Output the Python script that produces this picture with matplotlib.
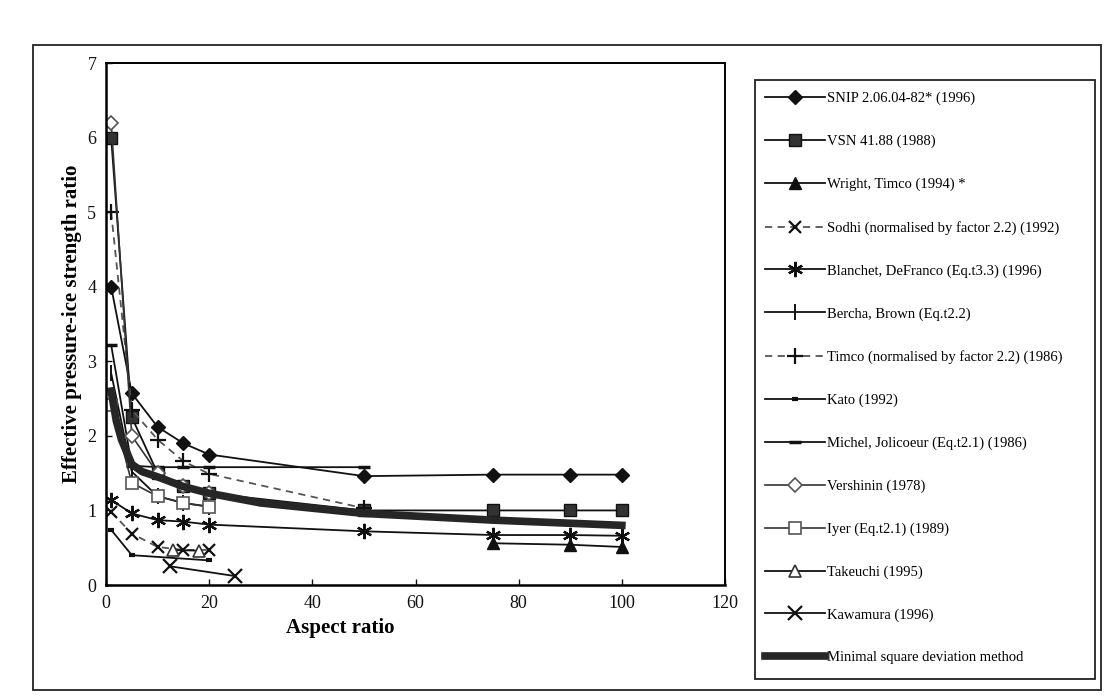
import matplotlib
matplotlib.use("Agg")
import matplotlib.pyplot as plt
from matplotlib.patches import Rectangle

plt.rcParams['font.family'] = ['Liberation Serif', 'DejaVu Serif']

# ---------------- data ----------------
snip_x = [1, 5, 10, 15, 20, 50, 75, 90, 100]
snip_y = [4.0, 2.57, 2.12, 1.9, 1.75, 1.46, 1.48, 1.48, 1.48]

vsn_x = [1, 5, 10, 15, 20, 50, 75, 90, 100]
vsn_y = [6.0, 2.25, 1.5, 1.33, 1.23, 1.0, 1.0, 1.0, 1.0]

wright_x = [75, 90, 100]
wright_y = [0.56, 0.54, 0.51]

sodhi_x = [1, 5, 10, 15, 20]
sodhi_y = [0.98, 0.69, 0.51, 0.47, 0.47]

blanchet_x = [1, 5, 10, 15, 20, 50, 75, 90, 100]
blanchet_y = [1.14, 0.96, 0.87, 0.85, 0.81, 0.72, 0.67, 0.67, 0.66]

bercha_x = [1, 5, 10, 15, 20]
bercha_y = [2.84, 1.52, 1.19, 1.10, 1.05]

timco_x = [1, 5, 10, 15, 20, 50]
timco_y = [5.0, 2.35, 1.95, 1.66, 1.49, 1.03]

kato_x = [1, 5, 20]
kato_y = [0.74, 0.40, 0.33]

michel_x = [1, 5, 10, 15, 20, 50]
michel_y = [3.22, 1.60, 1.58, 1.58, 1.58, 1.58]

vershinin_x = [1, 5, 10, 15, 20]
vershinin_y = [6.2, 2.0, 1.5, 1.33, 1.23]

iyer_x = [1, 5, 10, 15, 20]
iyer_y = [2.42, 1.37, 1.19, 1.10, 1.05]

takeuchi_x = [13, 18]
takeuchi_y = [0.47, 0.46]

kawamura_x = [12.5, 25]
kawamura_y = [0.25, 0.12]

msd_x = [1, 2, 3, 5, 7, 10, 15, 20, 30, 50, 75, 100]
msd_y = [2.6, 2.2, 1.95, 1.62, 1.52, 1.45, 1.32, 1.23, 1.1, 0.96, 0.87, 0.80]

labels = [
    "SNIP 2.06.04-82* (1996)",
    "VSN 41.88 (1988)",
    "Wright, Timco (1994) *",
    "Sodhi (normalised by factor 2.2) (1992)",
    "Blanchet, DeFranco (Eq.t3.3) (1996)",
    "Bercha, Brown (Eq.t2.2)",
    "Timco (normalised by factor 2.2) (1986)",
    "Kato (1992)",
    "Michel, Jolicoeur (Eq.t2.1) (1986)",
    "Vershinin (1978)",
    "Iyer (Eq.t2.1) (1989)",
    "Takeuchi (1995)",
    "Kawamura (1996)",
    "Minimal square deviation method",
]
x_ticks = [0, 20, 40, 60, 80, 100, 120]
y_ticks = [0, 1, 2, 3, 4, 5, 6, 7]

# ---------------- figure ----------------
W, H = 1107, 697
fig = plt.figure(figsize=(W / 100, H / 100), dpi=100)
fig.patch.set_facecolor('white')

def fx(px):
    return px / W

def fy(py):
    return 1 - py / H

# outer frame
fig.add_artist(Rectangle((fx(33), fy(690)), fx(1101) - fx(33), fy(45) - fy(690),
                         transform=fig.transFigure, fill=False, lw=1.3, ec='#222'))
# legend frame
fig.add_artist(Rectangle((fx(755), fy(679)), fx(1095) - fx(755), fy(80) - fy(679),
                         transform=fig.transFigure, fill=False, lw=1.3, ec='#222'))

ax = fig.add_axes([fx(106), fy(585), fx(725) - fx(106), fy(63) - fy(585)])
ax.set_xlim(0, 120)
ax.set_ylim(0, 7)

k = '#111111'
g = '#555555'
series = [
    dict(x=snip_x, y=snip_y, color=k, ls='-', lw=1.3, marker='D', ms=7, mfc=k, mec=k),
    dict(x=vsn_x, y=vsn_y, color=k, ls='-', lw=1.3, marker='s', ms=8, mfc='#333', mec=k),
    dict(x=wright_x, y=wright_y, color=k, ls='-', lw=1.3, marker='^', ms=8, mfc=k, mec=k),
    dict(x=sodhi_x, y=sodhi_y, color=g, ls=(0, (4, 3)), lw=1.3, marker='x', ms=9, mfc=k, mec=k, mew=1.6),
    dict(x=blanchet_x, y=blanchet_y, color=k, ls='-', lw=1.3, marker=(6, 2, 0), ms=11, mfc=k, mec=k, mew=1.6),
    dict(x=bercha_x, y=bercha_y, color=k, ls='-', lw=1.3, marker='|', ms=12, mfc=k, mec=k, mew=1.4),
    dict(x=timco_x, y=timco_y, color=g, ls=(0, (4, 3)), lw=1.3, marker='+', ms=12, mfc=k, mec=k, mew=1.6),
    dict(x=kato_x, y=kato_y, color=k, ls='-', lw=1.3, marker='_', ms=5, mfc=k, mec=k, mew=3),
    dict(x=michel_x, y=michel_y, color=k, ls='-', lw=1.3, marker='_', ms=9, mfc=k, mec=k, mew=2.5),
    dict(x=vershinin_x, y=vershinin_y, color='#333', ls='-', lw=1.2, marker='D', ms=7, mfc='white', mec='#555', mew=1.2),
    dict(x=iyer_x, y=iyer_y, color='#333', ls='-', lw=1.2, marker='s', ms=8, mfc='white', mec='#555', mew=1.2),
    dict(x=takeuchi_x, y=takeuchi_y, color=k, ls='-', lw=1.3, marker='^', ms=8, mfc='white', mec='#333', mew=1.2),
    dict(x=kawamura_x, y=kawamura_y, color=k, ls='-', lw=1.3, marker='x', ms=10, mfc=k, mec=k, mew=1.6),
    dict(x=msd_x, y=msd_y, color='#262626', ls='-', lw=5.5, marker=None),
]

handles = []
for s, lab in zip(series, labels):
    kw = {kk: v for kk, v in s.items() if kk not in ('x', 'y')}
    line, = ax.plot(s['x'], s['y'], label=lab, **kw)
    handles.append(line)

ax.set_xticks(x_ticks)
ax.set_yticks(y_ticks)
ax.tick_params(direction='in', length=4, width=1, labelsize=13, colors='#111', pad=7)
for side in ['left', 'bottom']:
    ax.spines[side].set_linewidth(1.8)
for side in ['top', 'right']:
    ax.spines[side].set_linewidth(1.4)
ax.set_xlabel('Aspect ratio', fontsize=15, fontweight='bold')
ax.xaxis.set_label_coords((340 - 106) / (725 - 106), -(618 - 585) / (585 - 63))
ax.set_ylabel('Effective pressure-ice strength ratio', fontsize=15, fontweight='bold')
ax.yaxis.set_label_coords(-(106 - 82) / (725 - 106), 0.5)

fig.legend(handles=handles, labels=labels, loc='upper left',
           bbox_to_anchor=(fx(765), fy(92)), frameon=False, fontsize=10.5,
           handlelength=4.1, handletextpad=0.15, labelspacing=2.02,
           numpoints=1, borderaxespad=0, borderpad=0)

fig.savefig('out.png', dpi=100)
